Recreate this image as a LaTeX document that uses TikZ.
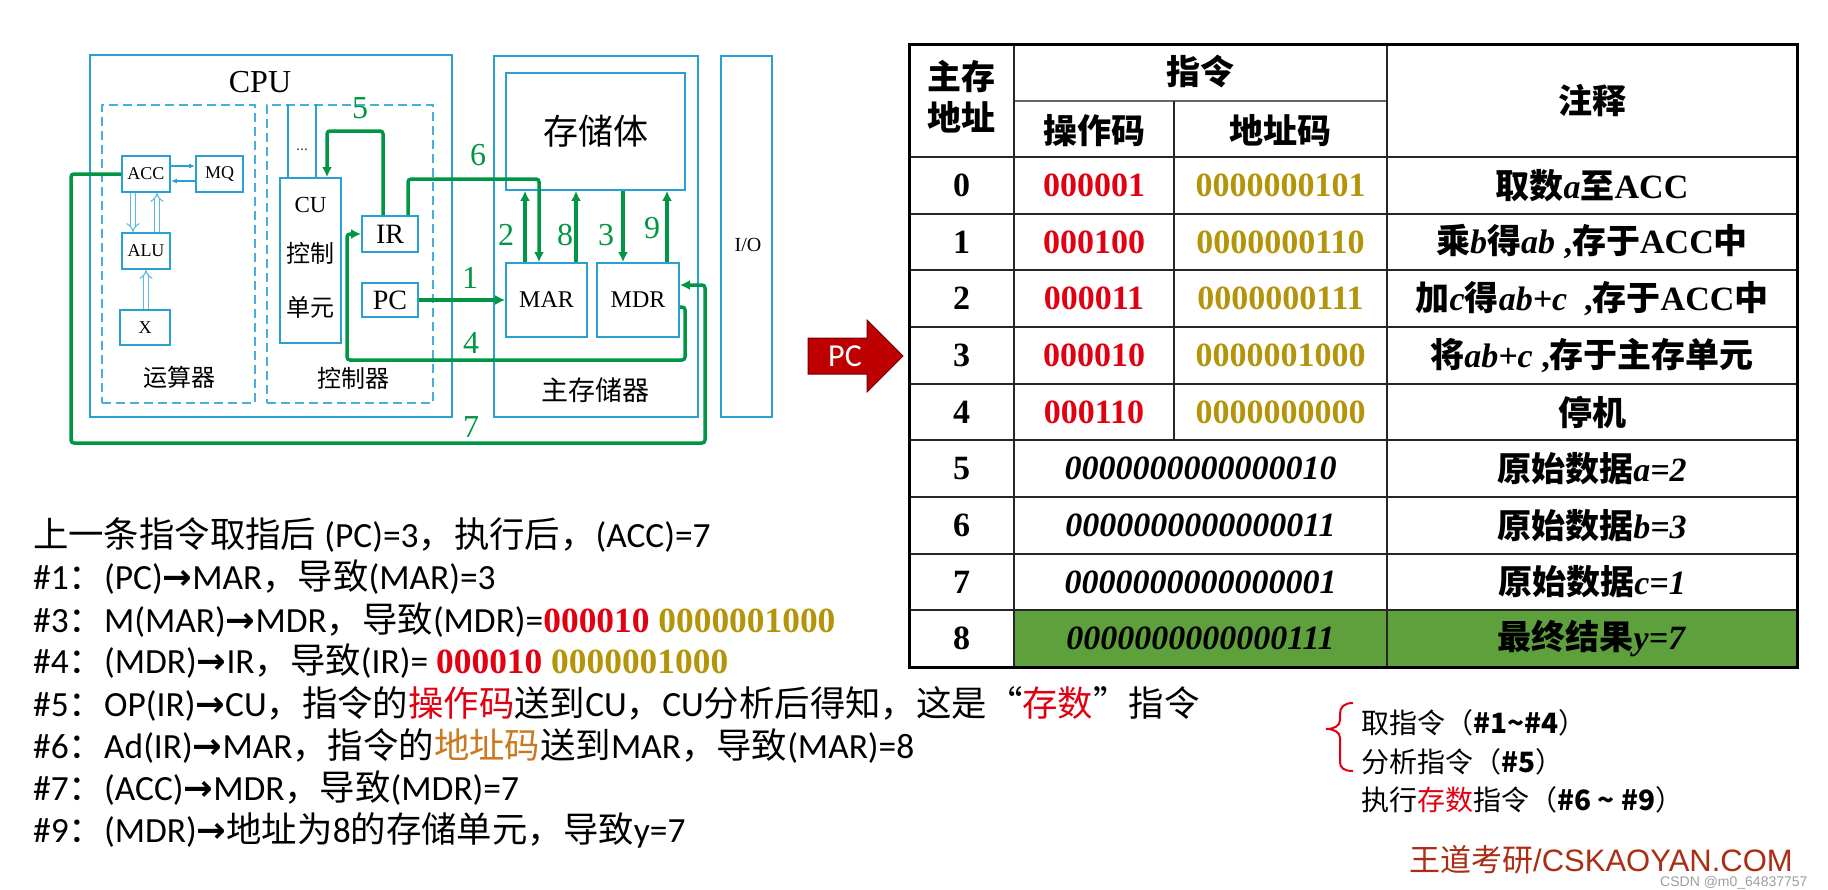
\documentclass[tikz,border=0pt]{standalone}
\usepackage{fontspec}
\setmainfont{Liberation Serif}
\setsansfont{Liberation Sans}
\newfontfamily\cjk{Noto Sans CJK SC}
\newfontfamily\carl{Carlito}
\newfontfamily\dvs{DejaVu Sans}
\usetikzlibrary{arrows.meta,calc}
\definecolor{cblue}{RGB}{40,160,212}
\definecolor{cgreen}{RGB}{0,150,68}
\definecolor{dred}{RGB}{225,0,18}
\definecolor{dgold}{RGB}{180,148,10}
\definecolor{dorange}{RGB}{205,120,30}
\definecolor{rowgreen}{RGB}{94,160,60}
\definecolor{pcred}{RGB}{190,0,0}
\definecolor{pcdark}{RGB}{110,0,0}
\definecolor{wdred}{RGB}{170,45,20}
\newcommand\C[1]{{\cjk #1}}
\newcommand\arr{{\dvs\bfseries →}}
\newcommand\rd[1]{{\color{dred}#1}}
\newcommand\gd[1]{{\color{dgold}#1}}
\tikzset{
  obox/.style={draw=cblue, line width=2.6pt, inner sep=0pt},
  ibox/.style={draw=cblue, line width=1.8pt, inner sep=0pt, fill=white},
  dbox/.style={draw=cblue!85, line width=1.8pt, dash pattern=on 9pt off 5pt, inner sep=0pt},
  gline/.style={draw=cgreen, line width=3.5pt, rounded corners=3pt},
  garrow/.style={gline, -{Latex[length=10pt,width=10pt]}},
  glabel/.style={text=cgreen, font=\fontsize{32}{32}\selectfont, inner sep=0pt},
  hollow/.style={draw=cblue!75, line width=1.1pt, double=white, double distance=3.5pt, -{Implies}},
  tharrow/.style={draw=cblue, line width=1.5pt, -{Latex[length=6pt,width=5pt]}},
  dlabel/.style={inner sep=0pt, font=\fontsize{24}{24}\selectfont\cjk},
  ltext/.style={anchor=west, inner sep=0pt, font=\fontsize{35.4}{40}\selectfont\carl},
  tcell/.style={inner sep=0pt, font=\fontsize{34}{41}\selectfont\bfseries},
  rtext/.style={anchor=west, inner sep=0pt, font=\fontsize{28}{28}\selectfont\cjk},
}
\begin{document}
\begin{tikzpicture}[x=1pt,y=-1pt]
\useasboundingbox (0,0) rectangle (1828,889);
\fill[white] (0,0) rectangle (1828,889);

% ---------------- CPU / memory diagram ----------------
\node[obox, minimum width=362pt, minimum height=362pt] (cpu) at (271,236) {};
\node[obox, minimum width=204pt, minimum height=361pt] (mem) at (596,236.5) {};
\node[obox, minimum width=51pt, minimum height=361pt] (io) at (746.5,236.5) {};
\node[dbox, minimum width=153pt, minimum height=298pt] (dalu) at (178.5,254) {};
\node[dbox, minimum width=166pt, minimum height=298pt] (dcu) at (350,254) {};

\node[inner sep=0pt, font=\fontsize{32}{32}\selectfont] (cpulbl) at (260,82) {CPU};
\node[dlabel] (alulbl) at (179,377) {运算器};
\node[dlabel] (culbl) at (353,378) {控制器};
\node[inner sep=0pt, font=\fontsize{27}{27}\selectfont\cjk] (memlbl) at (595,390) {主存储器};
\node[inner sep=0pt, font=\fontsize{20}{20}\selectfont] (iolbl) at (748,245) {I/O};

\node[ibox, minimum width=48pt, minimum height=36pt, font=\fontsize{18}{18}\selectfont] (ACC) at (146,174) {ACC};
\node[ibox, minimum width=47pt, minimum height=36pt, font=\fontsize{18}{18}\selectfont] (MQ) at (219.5,174) {MQ};
\node[ibox, minimum width=48pt, minimum height=36pt, font=\fontsize{18}{18}\selectfont] (ALU) at (146,251) {ALU};
\node[ibox, minimum width=50pt, minimum height=35pt, font=\fontsize{18}{18}\selectfont] (X) at (145,327.5) {X};
\node[ibox, minimum width=61pt, minimum height=165pt] (CU) at (310.5,260.5) {};
\node[inner sep=0pt, font=\fontsize{23}{23}\selectfont] (cut1) at (310.5,205) {CU};
\node[dlabel] (cut2) at (310.5,253) {控制};
\node[dlabel] (cut3) at (310.5,307) {单元};
\node[ibox, minimum width=56pt, minimum height=36pt, font=\fontsize{28}{28}\selectfont] (IR) at (390,234) {IR};
\node[ibox, minimum width=56pt, minimum height=34pt, font=\fontsize{28}{28}\selectfont] (PC) at (390,300) {PC};
\node[ibox, minimum width=179pt, minimum height=117pt, font=\fontsize{35}{35}\selectfont\cjk] (body) at (595.5,131.5) {存储体};
\node[ibox, minimum width=81pt, minimum height=74pt, font=\fontsize{24}{24}\selectfont] (MAR) at (546.5,300) {MAR};
\node[ibox, minimum width=82pt, minimum height=74pt, font=\fontsize{24}{24}\selectfont] (MDR) at (638,300) {MDR};

% lines above CU
\coordinate (u1) at (288,0);
\coordinate (u2) at (316,0);
\draw[cblue, line width=1.5pt] (u1 |- CU.north) -- (u1 |- dcu.north);
\draw[cblue, line width=1.5pt] (u2 |- CU.north) -- (u2 |- dcu.north);
\node[inner sep=0pt, font=\fontsize{16}{16}\selectfont, text=black!70] (dots) at (302,150) {...};

% thin arrows ACC <-> MQ
\coordinate (t1) at (0,166);
\coordinate (t2) at (0,181);
\draw[tharrow] (ACC.east |- t1) -- (MQ.west |- t1);
\draw[tharrow] (MQ.west |- t2) -- (ACC.east |- t2);

% hollow arrows
\coordinate (h1) at (133,0);
\coordinate (h2) at (157,0);
\coordinate (h3) at (146,0);
\draw[hollow] (h1 |- ACC.south) -- (h1 |- ALU.north);
\draw[hollow] (h2 |- ALU.north) -- (h2 |- ACC.south);
\draw[hollow] (h3 |- X.north) -- (h3 |- ALU.south);

% green data paths
\draw[garrow] (PC.east) -- (MAR.west);
\node[glabel] (n1) at (470,278) {1};

\coordinate (x2) at (525,0);
\draw[garrow] (x2 |- MAR.north) -- (x2 |- body.south);
\node[glabel] (n2) at (506,235) {2};

\coordinate (x8) at (576,0);
\draw[garrow] (x8 |- MAR.north) -- (x8 |- body.south);
\node[glabel] (n8) at (565,235) {8};

\coordinate (x3) at (623,0);
\draw[garrow] (x3 |- body.south) -- (x3 |- MDR.north);
\node[glabel] (n3) at (606,235) {3};

\coordinate (x9) at (667,0);
\draw[garrow] (x9 |- MDR.north) -- (x9 |- body.south);
\node[glabel] (n9) at (652,228) {9};

\coordinate (p6a) at (408,179);
\coordinate (p6b) at (539,179);
\draw[garrow] (IR.north -| p6a) -- (p6a) -- (p6b) -- (p6b |- MAR.north);
\node[glabel] (n6) at (478,155) {6};

\coordinate (c4a) at (685,307);
\coordinate (c4b) at (347,360);
\draw[garrow] (MDR.east |- c4a) -- (c4a) -- (c4a |- c4b) -- (c4b) -- (c4b |- IR.west) -- (IR.west);
\node[glabel] (n4) at (471,343) {4};

\coordinate (c5a) at (383,131);
\coordinate (c5b) at (327,131);
\draw[garrow] (IR.north -| c5a) -- (c5a) -- (c5b) -- (c5b |- CU.north);
\node[glabel] (n5) at (360,108) {5};

\coordinate (c7a) at (71,443);
\coordinate (c7b) at (705,285);
\draw[garrow] (ACC.west) -- (ACC.west -| c7a) -- (c7a) -- (c7a -| c7b) -- (c7b) -- (c7b -| MDR.east);
\node[glabel] (n7) at (471,427) {7};

% ---------------- PC block arrow ----------------
\draw[fill=pcred, draw=pcdark, line width=1pt] (808,338) -- (867,338) -- (867,320) -- (903,356) -- (867,392) -- (867,374) -- (808,374) -- cycle;
\node[inner sep=0pt, text=white, font=\fontsize{32}{32}\selectfont\carl] (pctag) at (845,356) {PC};

% ---------------- table ----------------
\fill[rowgreen] (1014,610.3) rectangle (1797,667);
\foreach \yy in {157,213.7,270.3,327,383.7,440.3,497,553.7,610.3}
  \draw[black!85, line width=2pt] (909,\yy) -- (1797,\yy);
\draw[black!60, line width=1.5pt] (1014,101) -- (1387,101);
\draw[black!85, line width=2pt] (1014,44) -- (1014,667);
\draw[black!85, line width=2pt] (1387,44) -- (1387,667);
\draw[black!85, line width=2pt] (1174,101) -- (1174,440.3);
\draw[black, line width=3pt] (909,44) rectangle (1797,667);

\node[tcell, align=center] (h1) at (961.5,96.5) {\C{主存}\\\C{地址}};
\node[tcell] (h2) at (1200.5,72) {\C{指令}};
\node[tcell] (h3) at (1094,131) {\C{操作码}};
\node[tcell] (h4) at (1280.5,131) {\C{地址码}};
\node[tcell] (h5) at (1592,101) {\C{注释}};

\node[tcell] (a0) at (961.5,185.3) {0};
\node[tcell] (a1) at (961.5,242) {1};
\node[tcell] (a2) at (961.5,298.7) {2};
\node[tcell] (a3) at (961.5,355.3) {3};
\node[tcell] (a4) at (961.5,412) {4};
\node[tcell] (a5) at (961.5,468.7) {5};
\node[tcell] (a6) at (961.5,525.3) {6};
\node[tcell] (a7) at (961.5,582) {7};
\node[tcell] (a8) at (961.5,638.7) {8};

\node[tcell, text=dred] (o0) at (1094,185.3) {000001};
\node[tcell, text=dred] (o1) at (1094,242) {000100};
\node[tcell, text=dred] (o2) at (1094,298.7) {000011};
\node[tcell, text=dred] (o3) at (1094,355.3) {000010};
\node[tcell, text=dred] (o4) at (1094,412) {000110};

\node[tcell, text=dgold] (d0) at (1280.5,185.3) {0000000101};
\node[tcell, text=dgold] (d1) at (1280.5,242) {0000000110};
\node[tcell, text=dgold] (d2) at (1280.5,298.7) {0000000111};
\node[tcell, text=dgold] (d3) at (1280.5,355.3) {0000001000};
\node[tcell, text=dgold] (d4) at (1280.5,412) {0000000000};

\node[tcell] (w5) at (1200.5,468.7) {\textit{0000000000000010}};
\node[tcell] (w6) at (1200.5,525.3) {\textit{0000000000000011}};
\node[tcell] (w7) at (1200.5,582) {\textit{0000000000000001}};
\node[tcell] (w8) at (1200.5,638.7) {\textit{0000000000000111}};

\node[tcell] (r0) at (1592,185.3) {\C{取数}\textit{a}\C{至}ACC};
\node[tcell] (r1) at (1592,242) {\C{乘}\textit{b}\C{得}\textit{ab} ,\C{存于}ACC\C{中}};
\node[tcell] (r2) at (1592,298.7) {\C{加}\textit{c}\C{得}\textit{ab+c}\ \ ,\C{存于}ACC\C{中}};
\node[tcell] (r3) at (1592,355.3) {\C{将}\textit{ab+c} ,\C{存于主存单元}};
\node[tcell] (r4) at (1592,412) {\C{停机}};
\node[tcell] (r5) at (1592,468.7) {\C{原始数据}\textit{a=2}};
\node[tcell] (r6) at (1592,525.3) {\C{原始数据}\textit{b=3}};
\node[tcell] (r7) at (1592,582) {\C{原始数据}\textit{c=1}};
\node[tcell] (r8) at (1592,638.7) {\C{最终结果}\textit{y=7}};

% ---------------- left text ----------------
\node[ltext] (L1) at (33,535) {\C{上一条指令取指后} (PC)=3\C{，执行后，}(ACC)=7};
\node[ltext] (L2) at (33,577) {\#1\C{：}(PC)\arr MAR\C{，导致}(MAR)=3};
\node[ltext] (L3) at (33,620) {\#3\C{：}M(MAR)\arr MDR\C{，导致}(MDR)={\rmfamily\bfseries\rd{000010} \gd{0000001000}}};
\node[ltext] (L4) at (33,661) {\#4\C{：}(MDR)\arr IR\C{，导致}(IR)= {\rmfamily\bfseries\rd{000010} \gd{0000001000}}};
\node[ltext] (L5) at (33,704) {\#5\C{：}OP(IR)\arr CU\C{，指令的\rd{操作码}送到}CU\C{，}CU\C{分析后得知，这是“\rd{存数}”指令}};
\node[ltext] (L6) at (33,746) {\#6\C{：}Ad(IR)\arr MAR\C{，指令的{\color{dorange}地址码}送到}MAR\C{，导致}(MAR)=8};
\node[ltext] (L7) at (33,788) {\#7\C{：}(ACC)\arr MDR\C{，导致}(MDR)=7};
\node[ltext] (L8) at (33,830) {\#9\C{：}(MDR)\arr\C{地址为}8\C{的存储单元，导致}y=7};

% ---------------- right-bottom notes ----------------
\draw[dred, line width=2pt] (1353,703) .. controls (1344,703) and (1340,707) .. (1340,714)
  -- (1340,720) .. controls (1340,726) and (1334,729) .. (1326,729)
  .. controls (1334,729) and (1340,732) .. (1340,738)
  -- (1340,762) .. controls (1340,768) and (1344,771) .. (1353,771);
\node[rtext] (R1) at (1361,723) {取指令（{\bfseries\#1\textasciitilde\#4}）};
\node[rtext] (R2) at (1361,762) {分析指令（{\bfseries\#5}）};
\node[rtext] (R3) at (1361,800) {执行\rd{存数}指令（{\bfseries\#6 \textasciitilde\ \#9}）};

\node[anchor=west, inner sep=0pt, text=wdred, font=\fontsize{31}{31}\selectfont\sffamily] (brand) at (1409,860) {\C{王道考研}/CSKAOYAN.COM};
\node[anchor=west, inner sep=0pt, text=gray!75, font=\fontsize{14}{14}\selectfont\sffamily] (csdn) at (1660,883) {CSDN @m0\_64837757};
\end{tikzpicture}
\end{document}
